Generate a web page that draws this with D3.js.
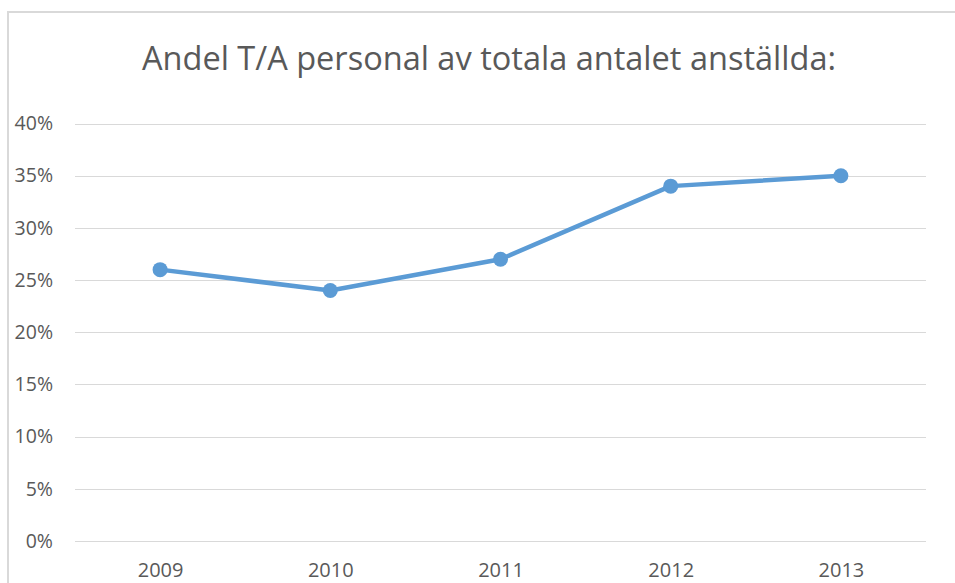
<!DOCTYPE html>
<html>
<head>
<meta charset="utf-8">
<script src="https://cdn.jsdelivr.net/npm/d3@7/dist/d3.min.js"></script>
<style>
  html, body { margin: 0; padding: 0; background: #fff; }
  svg { display: block; }
</style>
</head>
<body>
<svg id="root" width="955" height="583"></svg>
<script>
const years = ['2009', '2010', '2011', '2012', '2013']
const shares = [0.26, 0.24, 0.27, 0.34, 0.35]
const yTicks = [0, 0.05, 0.10, 0.15, 0.20, 0.25, 0.30, 0.35, 0.40]
const title = 'Andel T/A personal av totala antalet anställda:'

const root = d3.select('#root')
const font = '"Open Sans", "Noto Sans", sans-serif'
const grey = '#595959'

// chart frame (only top and left visible in the crop)
root.append('path')
  .attr('d', 'M8,583 V12 H955')
  .attr('fill', 'none')
  .attr('stroke', '#d9d9d9')
  .attr('stroke-width', 2)

const plot = { left: 75, right: 926, top: 123.5, bottom: 541 }

const x = d3.scalePoint()
  .domain(years)
  .range([plot.left, plot.right])
  .padding(0.5)

const y = d3.scaleLinear()
  .domain([0, 0.4])
  .range([plot.bottom, plot.top])

// gridlines
root.append('g')
  .selectAll('line')
  .data(yTicks)
  .enter().append('line')
  .attr('x1', plot.left)
  .attr('x2', plot.right)
  .attr('y1', d => Math.round(y(d)) + 0.5)
  .attr('y2', d => Math.round(y(d)) + 0.5)
  .attr('stroke', '#d9d9d9')
  .attr('stroke-width', 1)

// y axis labels
const yAxis = root.append('g')
  .attr('transform', 'translate(53,0)')
  .call(d3.axisLeft(y).tickValues(yTicks).tickFormat(d3.format('.0%')).tickSize(0).tickPadding(0))
yAxis.select('.domain').remove()
yAxis.selectAll('text')
  .attr('font-family', font)
  .attr('font-size', 19.5)
  .attr('fill', grey)

// x axis labels
const xAxis = root.append('g')
  .attr('transform', `translate(0,${plot.bottom + 22})`)
  .call(d3.axisBottom(x).tickSize(0).tickPadding(0))
xAxis.select('.domain').remove()
xAxis.selectAll('text')
  .attr('font-family', font)
  .attr('font-size', 20)
  .attr('fill', grey)

// title
root.append('text')
  .attr('x', 489)
  .attr('y', 70)
  .attr('text-anchor', 'middle')
  .attr('font-family', font)
  .attr('font-size', 32.5)
  .attr('fill', grey)
  .attr('textLength', 694)
  .attr('lengthAdjust', 'spacingAndGlyphs')
  .text(title)

const data = years.map((yr, i) => ({ yr, v: shares[i] }))

root.append('path')
  .datum(data)
  .attr('fill', 'none')
  .attr('stroke', '#5b9bd5')
  .attr('stroke-width', 4.5)
  .attr('stroke-linejoin', 'round')
  .attr('d', d3.line().x(d => x(d.yr)).y(d => y(d.v)))

root.append('g')
  .selectAll('circle')
  .data(data)
  .enter().append('circle')
  .attr('cx', d => x(d.yr))
  .attr('cy', d => y(d.v))
  .attr('r', 7.5)
  .attr('fill', '#5b9bd5')
</script>
</body>
</html>
